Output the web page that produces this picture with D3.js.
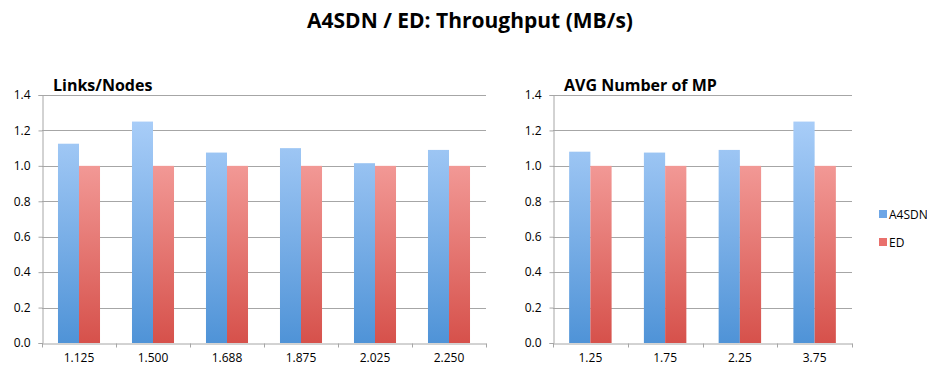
<!DOCTYPE html>
<html>
<head>
<meta charset="utf-8">
<script src="https://cdn.jsdelivr.net/npm/d3@7"></script>
<style>
  body { margin: 0; background: #fff; }
  svg text { font-family: "Open Sans", Lato, sans-serif; fill: #000; }
</style>
</head>
<body>
<svg id="vis" width="927" height="372"></svg>
<script>
// data
var seriesNames = ["A4SDN", "ED"];
var linksCats = ["1.125", "1.500", "1.688", "1.875", "2.025", "2.250"];
var linksA4SDN = [1.125, 1.25, 1.075, 1.10, 1.015, 1.09];
var linksED = [1.0, 1.0, 1.0, 1.0, 1.0, 1.0];
var mpCats = ["1.25", "1.75", "2.25", "3.75"];
var mpA4SDN = [1.08, 1.075, 1.09, 1.25];
var mpED = [1.0, 1.0, 1.0, 1.0];
var yTicks = [0, 0.2, 0.4, 0.6, 0.8, 1.0, 1.2, 1.4];

var vis = d3.select("#vis");

// gradients for the bars (light at top, darker at the bottom)
var defs = vis.append("defs");
function addGrad(id, top, bottom) {
  var g = defs.append("linearGradient").attr("id", id)
    .attr("x1", 0).attr("x2", 0)
    .attr("gradientUnits", "userSpaceOnUse")
    .attr("y1", 95).attr("y2", 343);
  g.append("stop").attr("offset", "0%").attr("stop-color", top);
  g.append("stop").attr("offset", "100%").attr("stop-color", bottom);
}
addGrad("gA4SDN", "#b3d4fc", "#4f93d7");
addGrad("gED", "#fdb5b3", "#d6514b");
var fills = ["url(#gA4SDN)", "url(#gED)"];

// main title
vis.append("text")
  .attr("x", 470).attr("y", 28)
  .attr("text-anchor", "middle")
  .style("font-size", "21px").style("font-weight", "bold")
  .text("A4SDN / ED: Throughput (MB/s)");

function drawPanel(left, right, title, cats, a, b) {
  var top = 95, bottom = 343;
  var y = d3.scaleLinear().domain([0, 1.4]).range([bottom, top]);
  var x0 = d3.scaleBand().domain(cats).range([left, right])
    .paddingInner(0.432).paddingOuter(0.216);
  var x1 = d3.scaleBand().domain(seriesNames).range([0, x0.bandwidth()]);
  var g = vis.append("g");

  // grid lines
  g.selectAll("line.grid").data(yTicks.slice(1)).enter().append("line")
    .attr("x1", left).attr("x2", right)
    .attr("y1", function(d) { return Math.round(y(d)) + 0.5; })
    .attr("y2", function(d) { return Math.round(y(d)) + 0.5; })
    .attr("stroke", "#a6a6a6").attr("stroke-width", 1);

  // bars
  var rows = cats.map(function(c, i) { return { cat: c, vals: [a[i], b[i]] }; });
  var grp = g.selectAll("g.cat").data(rows).enter().append("g")
    .attr("transform", function(d) { return "translate(" + x0(d.cat) + ",0)"; });
  grp.selectAll("rect").data(function(d) { return d.vals; }).enter().append("rect")
    .attr("x", function(d, i) { return x1(seriesNames[i]); })
    .attr("width", x1.bandwidth())
    .attr("y", function(d) { return y(d); })
    .attr("height", function(d) { return y(0) - y(d); })
    .attr("fill", function(d, i) { return fills[i]; });

  // y axis
  var yAxis = d3.axisLeft(y).tickValues(yTicks).tickFormat(d3.format(".1f")).tickSize(4).tickPadding(8);
  var ya = g.append("g").attr("transform", "translate(" + (left + 0.5) + ",0)").call(yAxis);
  ya.select(".domain").attr("stroke", "#a6a6a6");
  ya.selectAll(".tick line").attr("stroke", "#a6a6a6");
  ya.selectAll(".tick text").style("font-size", "12px").attr("fill", "#000");

  // x axis, ticks on band boundaries
  var xAxis = d3.axisBottom(x0).tickSize(0).tickPadding(10);
  var xa = g.append("g").attr("transform", "translate(0," + (bottom + 0.5) + ")").call(xAxis);
  xa.select(".domain").attr("stroke", "#a6a6a6");
  xa.selectAll(".tick text").style("font-size", "12px").attr("fill", "#000");
  var bounds = cats.map(function(c) { return x0(c) - x0.step() * x0.paddingOuter(); });
  bounds.push(right);
  xa.selectAll("line.bnd").data(bounds).enter().append("line")
    .attr("x1", function(d) { return Math.round(d) + 0.5; })
    .attr("x2", function(d) { return Math.round(d) + 0.5; })
    .attr("y1", 0).attr("y2", 4)
    .attr("stroke", "#a6a6a6");

  // panel title
  g.append("text")
    .attr("x", left + 11).attr("y", 91)
    .style("font-size", "16px").style("font-weight", "bold")
    .text(title);
}

drawPanel(42, 486, "Links/Nodes", linksCats, linksA4SDN, linksED);
drawPanel(553, 852, "AVG Number of MP", mpCats, mpA4SDN, mpED);

// legend
var leg = vis.append("g").selectAll("g").data(seriesNames).enter().append("g")
  .attr("transform", function(d, i) { return "translate(879," + (210 + i * 28) + ")"; });
leg.append("rect").attr("width", 8).attr("height", 8)
  .attr("fill", function(d, i) { return ["#6ea6e6", "#e9706c"][i]; });
leg.append("text").attr("x", 10).attr("y", 9)
  .style("font-size", "12px")
  .text(function(d) { return d; });
</script>
</body>
</html>
